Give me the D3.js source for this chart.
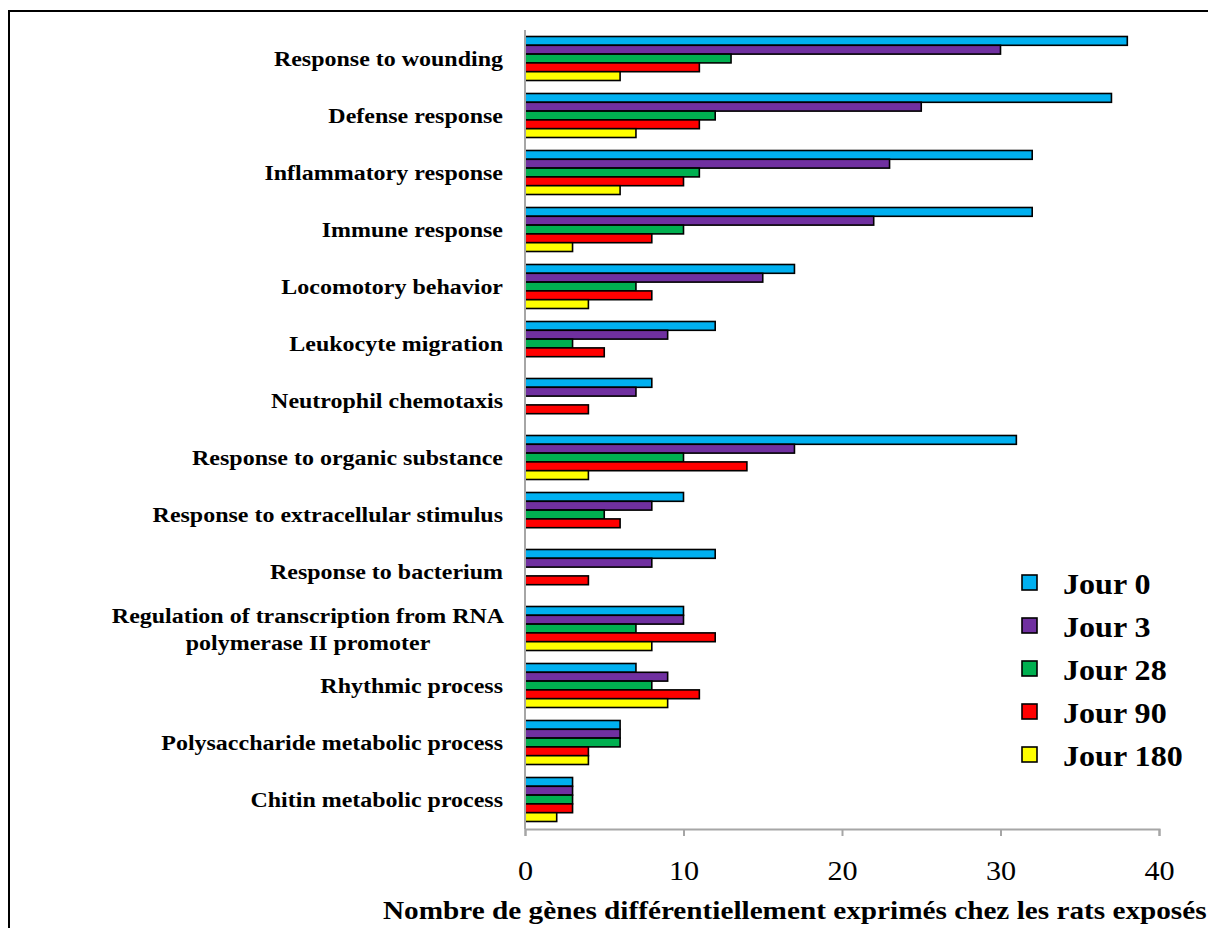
<!DOCTYPE html>
<html><head><meta charset="utf-8">
<script src="https://cdn.jsdelivr.net/npm/d3@7"></script>
<style>body{margin:0;background:#fff;} svg{display:block;}</style>
</head><body>
<svg id="chart" width="1208" height="928"></svg>
<script>
const categories = [
  "Response to wounding","Defense response","Inflammatory response","Immune response",
  "Locomotory behavior","Leukocyte migration","Neutrophil chemotaxis","Response to organic substance ",
  "Response to extracellular stimulus","Response to bacterium",
  "Regulation of transcription from RNA|polymerase II promoter",
  "Rhythmic process","Polysaccharide metabolic process","Chitin metabolic process"
];
const seriesNames = ["Jour 0","Jour 3","Jour 28","Jour 90","Jour 180"];
const jour0   = [38,37,32,32,17,12,8,31,10,12,10,7,6,3];
const jour3   = [30,25,23,22,15,9,7,17,8,8,10,9,6,3];
const jour28  = [13,12,11,10,7,3,0,10,5,0,7,8,6,3];
const jour90  = [11,11,10,8,8,5,4,14,6,4,12,11,4,3];
const jour180 = [6,7,6,3,4,0,0,4,0,0,8,9,4,2];
const xTicks = [0,10,20,30,40];
const colors = ["#00B0F0","#7030A0","#00B050","#FF0000","#FFFF00"];
const xTitle = "Nombre de gènes différentiellement exprimés chez les rats exposés";

const seriesValues = [jour0,jour3,jour28,jour90,jour180];
const svg = d3.select("#chart");
const serif = "'Liberation Serif','Times New Roman',serif";

// outer frame
svg.append("rect").attr("x",9).attr("y",11).attr("width",1300).attr("height",1000)
  .attr("fill","none").attr("stroke","#000").attr("stroke-width",2);

const x = d3.scaleLinear().domain([0,40]).range([525,1159]);
const y = d3.scaleBand().domain(categories).range([30,828]).paddingInner(0.228).paddingOuter(0.114);
const ys = d3.scaleBand().domain(seriesNames).range([0,y.bandwidth()]);

// bars
seriesNames.forEach((s,si)=>{
  svg.append("g").selectAll("rect").data(categories.map((c,i)=>({c,v:seriesValues[si][i]})).filter(d=>d.v>0))
    .join("rect")
    .attr("x",x(0)).attr("y",d=>y(d.c)+ys(s))
    .attr("width",d=>x(d.v)-x(0)).attr("height",ys.bandwidth())
    .attr("fill",colors[si]).attr("stroke","#000").attr("stroke-width",1.6);
});

// y axis line
svg.append("line").attr("x1",x(0)).attr("x2",x(0)).attr("y1",30).attr("y2",829)
  .attr("stroke","#a6a6a6").attr("stroke-width",2);

// x axis
const xAxis = svg.append("g").attr("transform","translate(0,829)")
  .call(d3.axisBottom(x).tickValues(xTicks).tickSize(7).tickPadding(14).tickFormat(d3.format("d")));
xAxis.select(".domain").attr("stroke","#a6a6a6").attr("stroke-width",2);
xAxis.selectAll(".tick line").attr("stroke","#a6a6a6").attr("stroke-width",2);
xAxis.selectAll(".tick text").remove();
xAxis.selectAll(".tick").append("text")
  .attr("transform","translate(0,51) scale(1.12,1)")
  .attr("text-anchor","middle").attr("font-family",serif).attr("font-size",27).attr("fill","#000")
  .text(d=>d3.format("d")(d));

// category labels
categories.forEach(c=>{
  const lines = c.split("|");
  const cy = y(c)+y.bandwidth()/2;
  const xx = lines.length>1 ? 308 : 503;
  const t = svg.append("text").attr("font-family",serif).attr("font-weight","bold")
    .attr("font-size",22).attr("text-anchor", lines.length>1?"middle":"end")
    .attr("transform",`translate(${xx},${cy+7.5}) scale(1.09,1)`);
  lines.forEach((l,li)=>{
    t.append("tspan").attr("x",0).attr("y",(li-(lines.length-1)/2)*27).text(l);
  });
});

// axis title
svg.append("text").attr("transform","translate(383,919) scale(1.17,1)")
  .attr("font-family",serif).attr("font-weight","bold")
  .attr("font-size",25).text(xTitle);

// legend
seriesNames.forEach((s,i)=>{
  const ly = 583 + i*43;
  svg.append("rect").attr("x",1022).attr("y",ly-8).attr("width",15).attr("height",15)
    .attr("fill",colors[i]).attr("stroke","#000").attr("stroke-width",1.6);
  svg.append("text").attr("transform",`translate(1063,${ly+11}) scale(1.07,1)`)
    .attr("font-family",serif).attr("font-weight","bold")
    .attr("font-size",30).text(s);
});
</script>
</body></html>
